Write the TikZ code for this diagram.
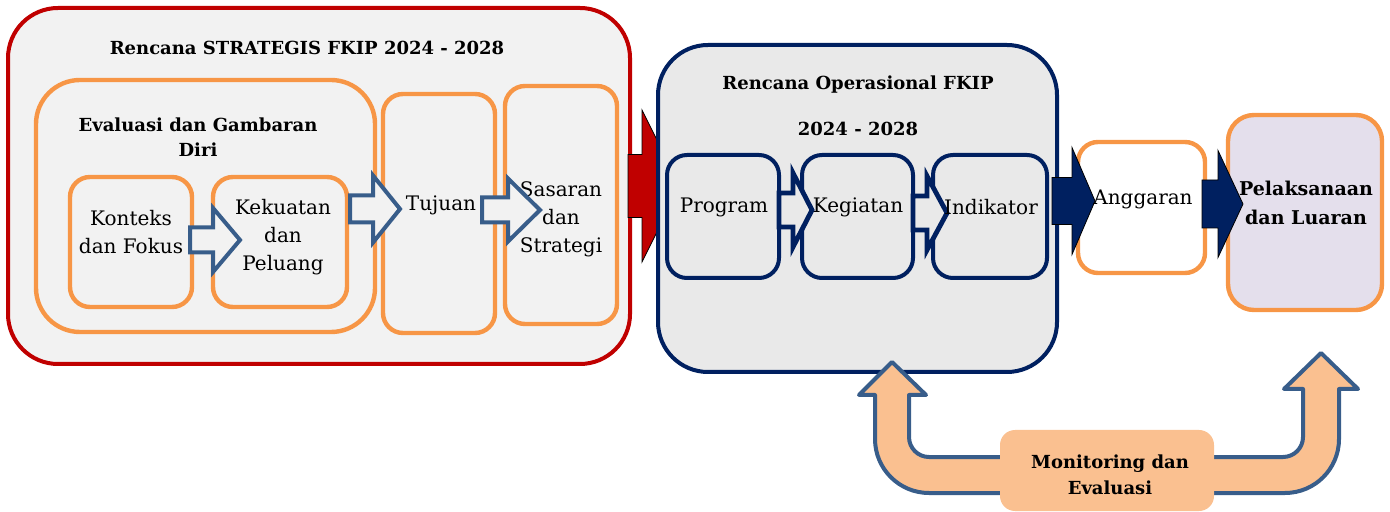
\documentclass[tikz,border=0pt]{standalone}
\usepackage{fontspec}
\setmainfont{DejaVu Serif}
\usetikzlibrary{calc}

\definecolor{darkred}{HTML}{C00000}
\definecolor{orangeline}{HTML}{F79646}
\definecolor{navy}{HTML}{002060}
\definecolor{steel}{HTML}{385D8A}
\definecolor{paper}{HTML}{F2F2F2}
\definecolor{greyfill}{HTML}{E9E9E9}
\definecolor{peach}{HTML}{FAC090}
\definecolor{lavender}{HTML}{E4DFEC}

% Block arrow: [style]{tail}{tip}{head length}{shaft half}{head half}
\newcommand{\blockarrow}[6][]{%
  \draw[#1] ($(#2)+(0,-#5)$) -- ($(#3)+(-#4,-#5)$) -- ($(#3)+(-#4,-#6)$)
    -- (#3) -- ($(#3)+(-#4,#6)$) -- ($(#3)+(-#4,#5)$) -- ($(#2)+(0,#5)$) -- cycle;}

\begin{document}
\begin{tikzpicture}
		[
			x=0.5pt, y=-0.5pt,
			% Rounded boxes.
			box/.style={draw, rounded corners=10pt, inner sep=0pt},
			obox/.style={box, draw=orangeline, line width=2.2pt},
			nbox/.style={box, draw=navy, line width=2pt, fill=greyfill},
			% Texts.
			txt/.style={align=center, inner sep=0pt, font=\fontsize{10}{14}\selectfont},
			title/.style={align=center, font=\bfseries\fontsize{9}{12.5}\selectfont},
			% Hollow and solid block arrows.
			harrow/.style={draw=steel, line width=2pt, fill=paper, line join=miter},
			narrow/.style={draw=navy, line width=2.4pt, fill=greyfill, line join=miter},
			sarrow/.style={fill=navy},
			uarrow/.style={draw=steel, line width=2pt, fill=peach, line join=round}
		]
			\useasboundingbox (0,0) rectangle (1390,512);

			% Strategic plan.
			\node[box, draw=darkred, line width=2pt, fill=paper, rounded corners=25pt,
				minimum width=311pt, minimum height=178pt] (strat) at (319,186) {};
			\node[title] (strattitle) at (307,48) {Rencana STRATEGIS FKIP 2024 - 2028};
			\node[obox, rounded corners=22pt, minimum width=169.5pt, minimum height=126pt]
				(evaluasi) at (205.5,206) {};
			\node[title] (evaltitle) at (198,137) {Evaluasi dan Gambaran\\Diri};
			\node[obox, minimum width=61pt, minimum height=65pt] (konteks) at (131,242) {};
			\node[obox, minimum width=67pt, minimum height=65pt] (kekuatan) at (280,242) {};
			\node[obox, minimum width=56pt, minimum height=119.5pt] (tujuan) at (439,213.5) {};
			\node[obox, minimum width=56pt, minimum height=119pt] (sasaran) at (561,205) {};
			\node[txt] (kontekstext) at (131,232) {Konteks\\dan Fokus};
			\node[txt] (kekuatantext) at (283,237) {Kekuatan\\dan\\Peluang};
			\node[txt] (tujuantext) at (441,205) {Tujuan};
			\node[txt] (sasarantext) at (561,219) {Sasaran\\dan\\Strategi};

			\coordinate (a1) at (190,240);
			\coordinate (b1) at (240,240);
			\coordinate (a2) at (350,209);
			\coordinate (b2) at (400,209);
			\coordinate (a3) at (482,210);
			\coordinate (b3) at (540,210);
			\blockarrow[harrow]{a1}{b1}{27}{12.5}{32}
			\blockarrow[harrow]{a2}{b2}{27}{13.5}{33.5}
			\blockarrow[harrow]{a3}{b3}{32}{12.5}{31.5}

			% Arrow to the operational plan.
			\coordinate (r0) at (628,186);
			\coordinate (r1) at (680,186);
			\blockarrow[fill=darkred]{r0}{r1}{38}{31.5}{76}

			% Operational plan.
			\node[box, draw=navy, line width=2pt, fill=greyfill, rounded corners=25pt,
				minimum width=199.5pt, minimum height=163.5pt] (oper) at (857.5,208.5) {};
			\node[title, font=\bfseries\fontsize{9}{23}\selectfont] (opertitle) at (858,106)
				{Rencana Operasional FKIP\\2024 - 2028};
			\node[nbox, minimum width=56pt, minimum height=61.5pt] (program) at (723,216.5) {};
			\node[nbox, minimum width=55.5pt, minimum height=61.5pt] (kegiatan) at (857.5,216.5) {};
			\node[nbox, minimum width=57pt, minimum height=61.5pt] (indikator) at (990,216.5) {};

			\coordinate (p1) at (779,210);
			\coordinate (q1) at (812,210);
			\coordinate (p2) at (913,213);
			\coordinate (q2) at (947,213);
			\blockarrow[narrow]{p1}{q1}{19}{17}{37}
			\blockarrow[narrow]{p2}{q2}{20}{17}{37}
			\node[txt] (programtext) at (724,207) {Program};
			\node[txt] (kegiatantext) at (858,207) {Kegiatan};
			\node[txt] (indikatortext) at (991,207) {Indikator};

			% Budget and results.
			\node[obox, fill=white, minimum width=63.5pt, minimum height=65.5pt] (anggaran) at (1141.5,207.5) {};
			\node[obox, fill=lavender, rounded corners=13pt, minimum width=77pt, minimum height=97.5pt]
				(pelaksanaan) at (1305,212.5) {};

			\coordinate (s1) at (1052,201);
			\coordinate (t1) at (1095,201);
			\coordinate (s2) at (1202,204);
			\coordinate (t2) at (1243,204);
			\blockarrow[sarrow]{s1}{t1}{23}{23.5}{53.5}
			\blockarrow[sarrow]{s2}{t2}{25}{24}{53.5}
			\node[txt] (anggarantext) at (1143,199) {Anggaran};
			\node[txt, font=\bfseries\fontsize{9.5}{14.5}\selectfont] (pelaksanaantext) at (1306,203)
				{Pelaksanaan\\dan Luaran};

			% Feedback arrows.
			\draw[uarrow] (1005,457) -- (929,457) arc[start angle=90, end angle=180, radius=20]
				-- (909,395) -- (926,395) -- (892,362) -- (859,395) -- (875,395) -- (875,439)
				arc[start angle=180, end angle=90, radius=54] -- (1005,493) -- cycle;
			\draw[uarrow] (1210,457) -- (1283,457) arc[start angle=90, end angle=0, radius=20]
				-- (1303,389) -- (1284,389) -- (1321,353) -- (1358,389) -- (1339,389) -- (1339,439)
				arc[start angle=0, end angle=90, radius=54] -- (1210,493) -- cycle;

			\node[box, draw=none, fill=peach, rounded corners=7.5pt, minimum width=107pt,
				minimum height=40.5pt] (monev) at (1107,470.5) {};
			\node[title, font=\bfseries\fontsize{9}{13}\selectfont] (monevtext) at (1110,475)
				{Monitoring dan\\Evaluasi};
		\end{tikzpicture}
\end{document}
